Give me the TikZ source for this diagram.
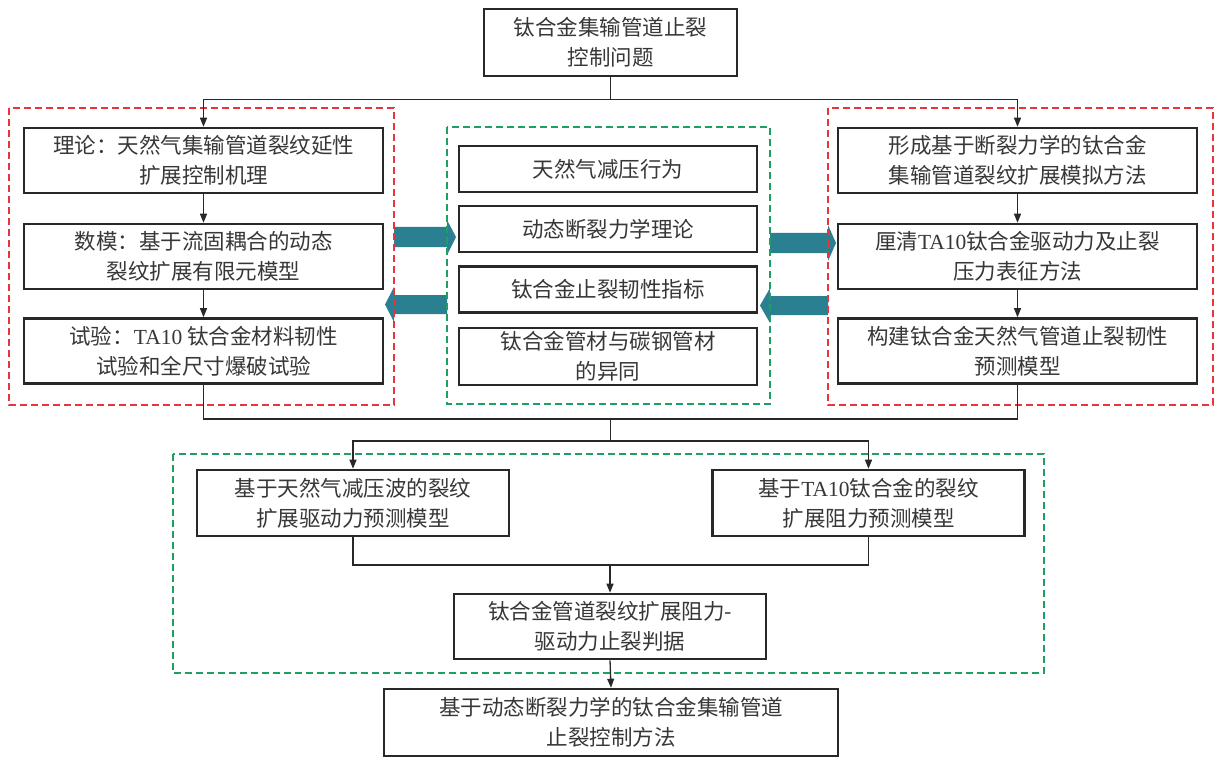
\documentclass[tikz,border=0pt]{standalone}
\usepackage{fontspec}
\setmainfont{Noto Sans CJK SC}
\newfontfamily\lat{Liberation Serif}
\usetikzlibrary{arrows.meta}
\definecolor{boxline}{RGB}{40,40,40}
\definecolor{txt}{RGB}{55,55,55}
\definecolor{redd}{RGB}{232,52,60}
\definecolor{greend}{RGB}{30,160,100}
\definecolor{tealc}{RGB}{42,127,145}
\begin{document}
\begin{tikzpicture}[x=1pt,y=-1pt,
  box/.style={draw=boxline,line width=2.6pt,fill=white,align=center,inner sep=0pt,text=txt,font=\fontsize{21.5}{30}\selectfont},
  wbox/.style={box,minimum width=359pt,minimum height=65pt},
  mbox/.style={box,minimum width=298pt,minimum height=46pt},
  bbox/.style={box,minimum width=312pt,minimum height=66pt},
  conn/.style={draw=boxline,line width=1.3pt},
  arr/.style={conn,-{Triangle[length=9pt,width=7pt]}},
  reddash/.style={draw=redd,line width=1.5pt,dash pattern=on 7pt off 4pt},
  greendash/.style={draw=greend,line width=1.5pt,dash pattern=on 7pt off 4pt},
  tealarrow/.style={fill=tealc,draw=none}]
\useasboundingbox[fill=white] (0,0) rectangle (1218,762);

% teal arrows
\fill[tealarrow] (394,227) -- (447,227) -- (447,220) -- (456,237) -- (447,255) -- (447,247) -- (394,247) -- cycle;
\fill[tealarrow] (447,295) -- (394,295) -- (394,287) -- (385,304.5) -- (394,322) -- (394,314) -- (447,314) -- cycle;
\fill[tealarrow] (770,233) -- (828,233) -- (828,225) -- (836,243) -- (828,261) -- (828,253) -- (770,253) -- cycle;
\fill[tealarrow] (828,296) -- (770,296) -- (770,288) -- (760,305.5) -- (770,323) -- (770,315) -- (828,315) -- cycle;

% dashed groups
\draw[reddash] (9,108) rectangle (394,405);
\draw[reddash] (828,108) rectangle (1213,405);
\draw[greendash] (447,127) rectangle (770,404);
\draw[greendash] (173,454) rectangle (1044,673);

% boxes
\node[box,minimum width=253pt,minimum height=67pt] (top) at (610.5,42.5) {钛合金集输管道止裂\\控制问题};

\node[wbox] (L1) at (203.5,160.5) {理论：天然气集输管道裂纹延性\\扩展控制机理};
\node[wbox] (L2) at (203.5,256.5) {数模：基于流固耦合的动态\\裂纹扩展有限元模型};
\node[wbox] (L3) at (203.5,351) {试验：{\lat TA10} 钛合金材料韧性\\试验和全尺寸爆破试验};

\node[mbox] (M1) at (608,169) {天然气减压行为};
\node[mbox] (M2) at (608,229) {动态断裂力学理论};
\node[mbox] (M3) at (608,289.5) {钛合金止裂韧性指标};
\node[mbox,minimum height=57pt] (M4) at (608,356.5) {钛合金管材与碳钢管材\\的异同};

\node[wbox] (R1) at (1017.5,160.5) {形成基于断裂力学的钛合金\\集输管道裂纹扩展模拟方法};
\node[wbox] (R2) at (1017.5,256.5) {厘清{\lat TA10}钛合金驱动力及止裂\\压力表征方法};
\node[wbox] (R3) at (1017.5,351) {构建钛合金天然气管道止裂韧性\\预测模型};

\node[bbox] (BL) at (353,503) {基于天然气减压波的裂纹\\扩展驱动力预测模型};
\node[bbox] (BR) at (868.5,503) {基于{\lat TA10}钛合金的裂纹\\扩展阻力预测模型};
\node[bbox,minimum height=65pt] (MID) at (610,626.5) {钛合金管道裂纹扩展阻力-\\驱动力止裂判据};
\node[box,minimum width=454pt,minimum height=67pt] (FIN) at (611,722.5) {基于动态断裂力学的钛合金集输管道\\止裂控制方法};

% connectors
\coordinate (j1) at ([yshift=-22pt]top.south);
\draw[conn] (top.south) -- (j1);
\draw[arr] (j1) -| (L1.north);
\draw[arr] (j1) -| (R1.north);
\draw[arr] (L1) -- (L2);
\draw[arr] (L2) -- (L3);
\draw[arr] (R1) -- (R2);
\draw[arr] (R2) -- (R3);

\coordinate (j2) at (top.south |- 0,419);
\coordinate (j3) at (top.south |- 0,441);
\draw[conn] (L3.south) |- (j2) -| (R3.south);
\draw[conn] (j2) -- (j3);
\draw[arr] (j3) -| (BL.north);
\draw[arr] (j3) -| (BR.north);

\coordinate (j4) at (MID.north |- 0,565);
\draw[conn] (BL.south) |- (j4) -| (BR.south);
\draw[arr] (j4) -- (MID.north);
\draw[arr] (MID.south) -- (FIN.north);
\end{tikzpicture}
\end{document}
